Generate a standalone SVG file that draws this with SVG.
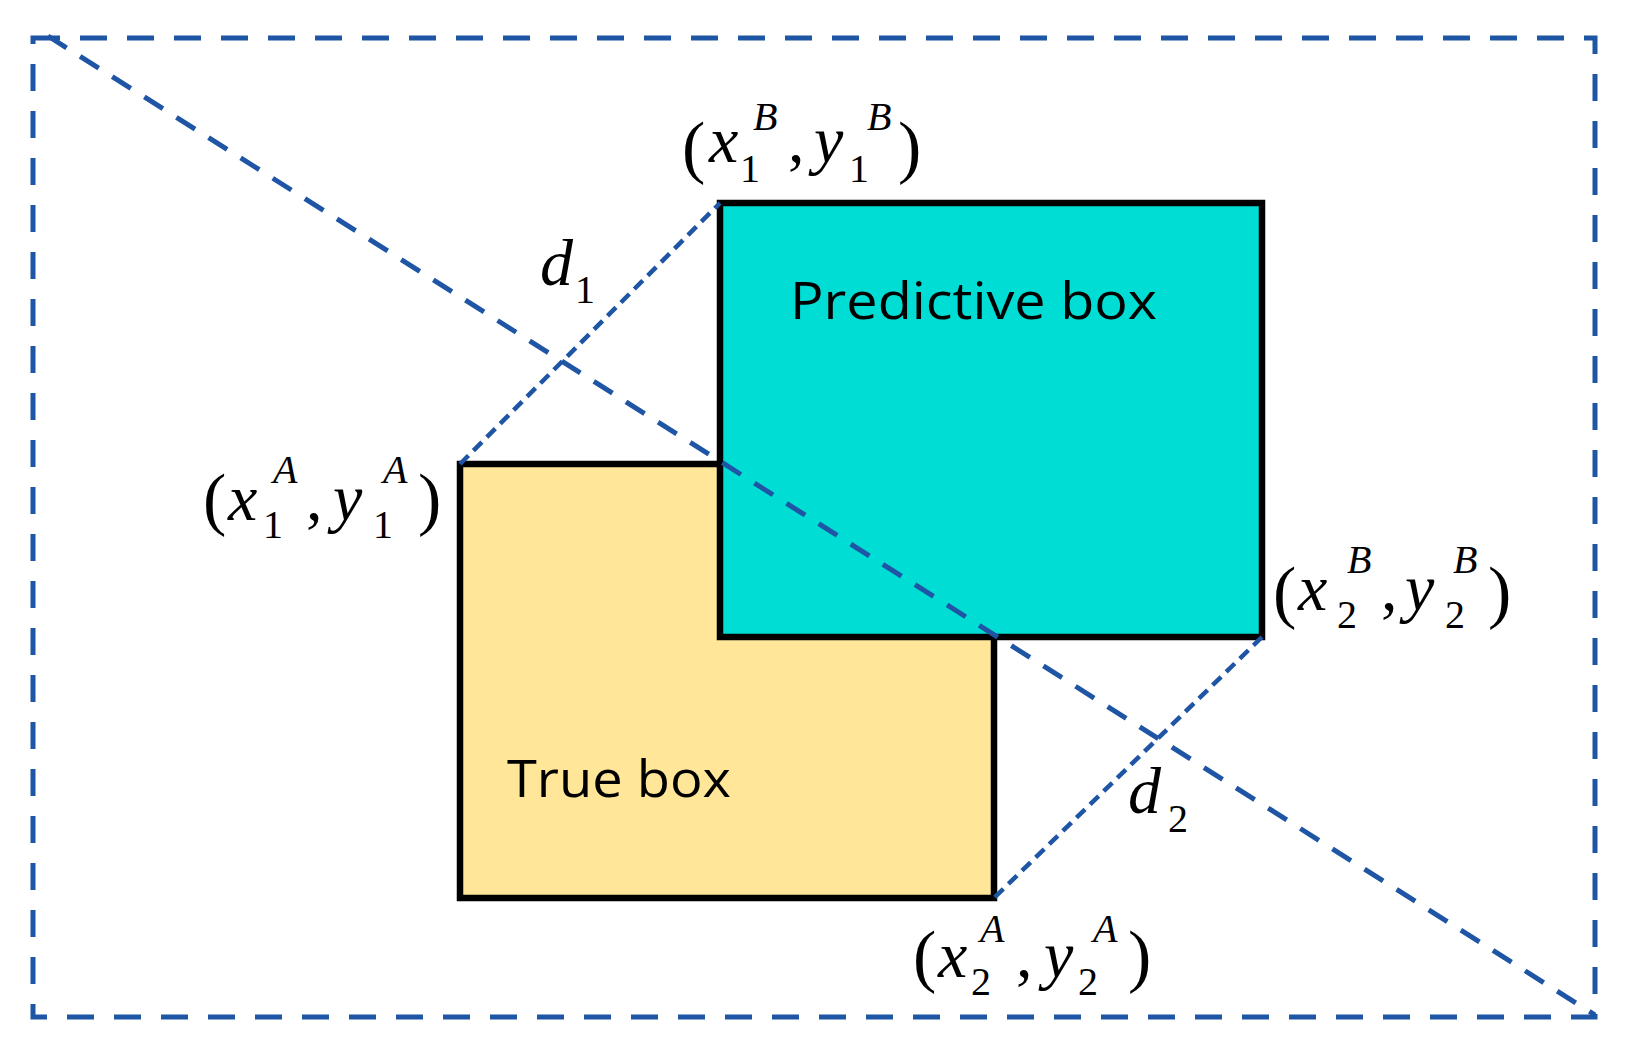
<svg xmlns="http://www.w3.org/2000/svg" width="1630" height="1058" viewBox="0 0 1630 1058">
<style>
.frame{fill:none;stroke:#1F55A5;stroke-width:5;stroke-dasharray:27 20}
.diag{fill:none;stroke:#1F55A5;stroke-width:5;stroke-dasharray:22 16}
.dd{fill:none;stroke:#1F55A5;stroke-width:4.5;stroke-dasharray:12 7}
.box{stroke:#000;stroke-width:6.5}
.lbl{font-family:"Open Sans","Liberation Sans",sans-serif;font-size:52px;fill:#000}
.m{font-family:"Liberation Serif","Times New Roman",serif;font-size:66px;fill:#000}
.it{font-style:italic}
.s{font-size:40px}
.p{font-size:70px}
</style>
<rect width="1630" height="1058" fill="#fff"/>
<g id="true-box">
<rect class="box" x="460" y="464" width="534" height="434" fill="#FFE699"/>
<text class="lbl" x="507" y="797" textLength="224" lengthAdjust="spacingAndGlyphs">True box</text>
</g>
<g id="predictive-box">
<rect class="box" x="720" y="203" width="542" height="434" fill="#00DDD5"/>
<text class="lbl" x="790" y="319" textLength="367" lengthAdjust="spacingAndGlyphs">Predictive box</text>
</g>
<g id="connectors">
<rect class="frame" x="33" y="38" width="1562" height="979"/>
<line class="diag" x1="48" y1="36" x2="1595" y2="1015"/>
<line class="dd" x1="460" y1="464" x2="720" y2="203"/>
<line class="dd" x1="1262" y1="637" x2="994" y2="898"/>
</g>
<g id="distances">
<text class="m"><tspan class="it" x="540" y="285">d</tspan><tspan class="s" x="575" y="303">1</tspan></text>
<text class="m"><tspan class="it" x="1128" y="813">d</tspan><tspan class="s" x="1168" y="832">2</tspan></text>
</g>
<g id="label-B1">
<text class="m"><tspan class="p" x="682" y="170">(</tspan><tspan class="it" x="709" y="162">x</tspan><tspan class="s" x="740" y="182">1</tspan><tspan class="s it" x="753" y="130">B</tspan><tspan x="788" y="162">,</tspan><tspan class="it" x="814" y="162">y</tspan><tspan class="s" x="849" y="182">1</tspan><tspan class="s it" x="867" y="130">B</tspan><tspan class="p" x="898" y="170">)</tspan></text>
</g>
<g id="label-A1">
<text class="m"><tspan class="p" x="203" y="522">(</tspan><tspan class="it" x="228" y="520">x</tspan><tspan class="s" x="263" y="538">1</tspan><tspan class="s it" x="273" y="483">A</tspan><tspan x="306" y="520">,</tspan><tspan class="it" x="333" y="520">y</tspan><tspan class="s" x="373" y="538">1</tspan><tspan class="s it" x="383" y="483">A</tspan><tspan class="p" x="418" y="522">)</tspan></text>
</g>
<g id="label-B2">
<text class="m"><tspan class="p" x="1273" y="615">(</tspan><tspan class="it" x="1298" y="610">x</tspan><tspan class="s" x="1337" y="628">2</tspan><tspan class="s it" x="1347" y="573">B</tspan><tspan x="1381" y="610">,</tspan><tspan class="it" x="1405" y="610">y</tspan><tspan class="s" x="1445" y="628">2</tspan><tspan class="s it" x="1453" y="573">B</tspan><tspan class="p" x="1488" y="615">)</tspan></text>
</g>
<g id="label-A2">
<text class="m"><tspan class="p" x="913" y="979">(</tspan><tspan class="it" x="938" y="977">x</tspan><tspan class="s" x="971" y="995">2</tspan><tspan class="s it" x="980" y="942">A</tspan><tspan x="1016" y="977">,</tspan><tspan class="it" x="1044" y="977">y</tspan><tspan class="s" x="1078" y="995">2</tspan><tspan class="s it" x="1093" y="942">A</tspan><tspan class="p" x="1128" y="979">)</tspan></text>
</g>
</svg>
